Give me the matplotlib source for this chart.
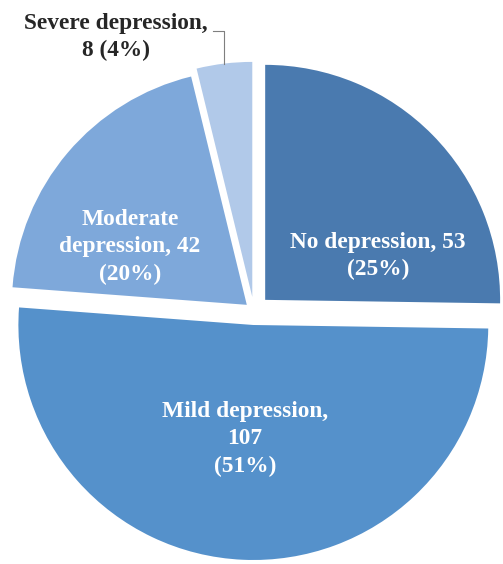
import numpy as np
import matplotlib
matplotlib.use("Agg")
import matplotlib.pyplot as plt

# data
labels = ["No depression", "Mild depression", "Moderate depression", "Severe depression"]
counts = [53, 107, 42, 8]
percents = [25, 51, 20, 4]

colors = ["#4A7AAF", "#5591CB", "#7EA8DA", "#B1C9E9"]
explode = [0.067, 0.06, 0.04, 0.06]
label_text = [
    "No depression, 53\n(25%)",
    "Mild depression,\n107\n(51%)",
    "Moderate\ndepression, 42\n(20%)",
    "Severe depression,\n8 (4%)",
]
label_pos = [(0.528, 0.234), (-0.038, -0.545), (-0.528, 0.272), (-0.587, 1.165)]
label_color = ["white", "white", "white", "#262626"]

plt.rcParams["font.family"] = ["Liberation Serif", "DejaVu Serif"]

fig = plt.figure(figsize=(5.03, 5.64), dpi=100)
ax = fig.add_axes([0, 0, 1, 1])

wedges, _ = ax.pie(counts, colors=colors, startangle=90, counterclock=False,
                   explode=explode, radius=1.0,
                   wedgeprops=dict(linewidth=0))

for txt, pos, c in zip(label_text, label_pos, label_color):
    ax.text(pos[0], pos[1], txt, ha="center", va="center", fontsize=16.8,
            fontweight="bold", color=c, linespacing=1.38)

# leader line for the small slice
w = wedges[3]
mid = np.deg2rad((w.theta1 + w.theta2) / 2)
cx, cy = w.center
ex = cx + np.cos(mid) * w.r
ey = cy + np.sin(mid) * w.r
ax.plot([-0.174, ex, ex], [1.191, 1.191, ey], color="#7F7F7F", linewidth=0.8)

ax.set_xlim(-1.081, 1.060)
ax.set_ylim(-1.077, 1.323)
ax.set_aspect("auto")
ax.axis("off")

fig.savefig("out.png", dpi=100)
